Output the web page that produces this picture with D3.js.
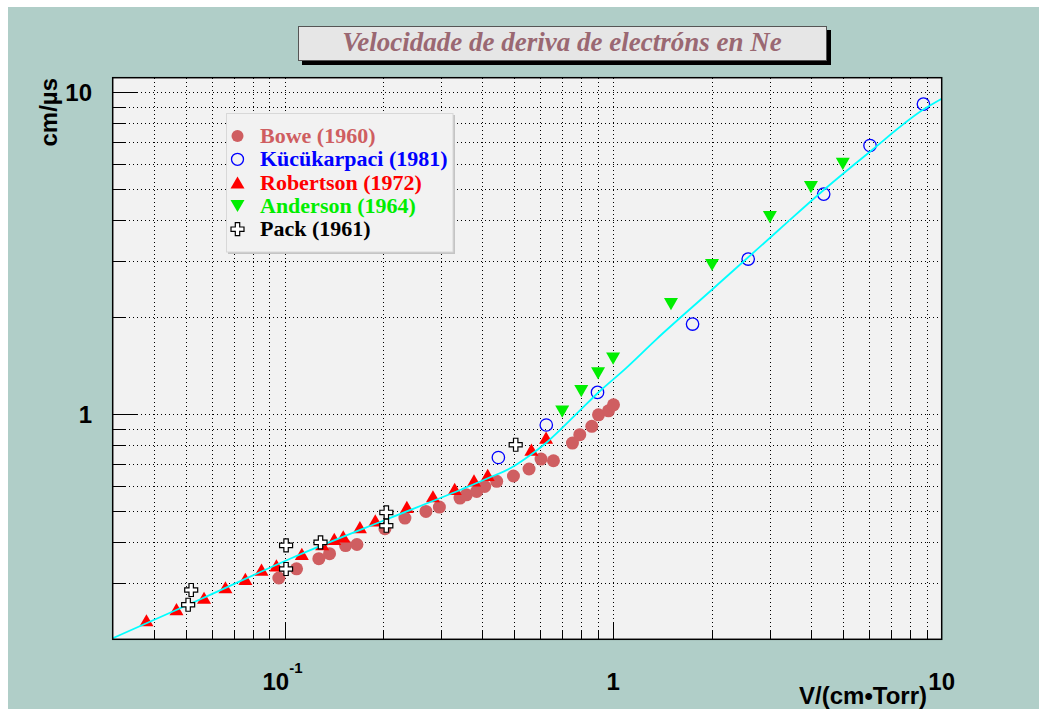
<!DOCTYPE html>
<html>
<head>
<meta charset="utf-8">
<script src="https://cdn.jsdelivr.net/npm/d3@7"></script>
<style>
  body { margin: 0; background: #fff; }
  svg { display: block; }
</style>
</head>
<body>
<svg id="chart" width="1039" height="709"></svg>
<script>
// drift velocity of electrons in neon, E/p in V/(cm·Torr) vs w in cm/µs
const bowe = [
  [0.0961, 0.310], [0.1088, 0.331], [0.1272, 0.356], [0.1371, 0.369], [0.1534, 0.391],
  [0.1661, 0.394], [0.2021, 0.441], [0.2325, 0.476], [0.2694, 0.499], [0.2960, 0.515],
  [0.3420, 0.549], [0.3577, 0.562], [0.3844, 0.576], [0.4066, 0.597], [0.4423, 0.619],
  [0.4974, 0.643], [0.5548, 0.676], [0.6035, 0.726], [0.6584, 0.717], [0.7521, 0.814],
  [0.7917, 0.864], [0.8612, 0.917], [0.9027, 0.996], [0.9683, 1.025], [1.0028, 1.070]
];
const kucukarpaci = [
  [0.4475, 0.734], [0.6261, 0.926], [0.8964, 1.169], [1.745, 1.906],
  [2.577, 3.034], [4.374, 4.829], [6.051, 6.836], [8.797, 9.191]
];
const robertson = [
  [0.0380, 0.229], [0.0469, 0.248], [0.0569, 0.269], [0.0661, 0.290], [0.0760, 0.308],
  [0.0851, 0.329], [0.0945, 0.339], [0.1129, 0.368], [0.1302, 0.395], [0.1417, 0.410],
  [0.1509, 0.417], [0.1696, 0.446], [0.1889, 0.468], [0.2357, 0.515], [0.2830, 0.556],
  [0.3295, 0.586], [0.3773, 0.623], [0.4153, 0.648], [0.5641, 0.776], [0.6252, 0.845]
];
const anderson = [
  [0.7, 1.02], [0.8, 1.18], [0.9, 1.34], [1.0, 1.49], [1.5, 2.2],
  [2.0, 2.91], [3.0, 4.10], [4.0, 5.08], [5.0, 6.0]
];
const pack = [
  [0.0520, 0.2845], [0.0509, 0.2561], [0.1011, 0.3914], [0.1011, 0.3307],
  [0.1287, 0.3999], [0.2041, 0.4955], [0.2041, 0.4505], [0.5053, 0.8040]
];
const fitCurve = [
  [0.03, 0.2015], [0.05546, 0.2664], [0.1119, 0.3675], [0.2030, 0.4703], [0.3437, 0.5828],
  [0.4242, 0.6383], [0.4880, 0.6808], [0.5615, 0.7486], [0.6325, 0.8233], [0.7075, 0.9166],
  [0.7972, 1.033], [0.8983, 1.164], [1.093, 1.389], [1.349, 1.703], [1.998, 2.436],
  [3.197, 3.741], [4.384, 4.981], [6.010, 6.502], [8.841, 8.867], [10, 9.55]
];

const legendEntries = ["Bowe (1960)", "Kücükarpaci (1981)", "Robertson (1972)", "Anderson (1964)", "Pack (1961)"];
const xTickValues = [0.1, 1, 10];
const xTickLabels = [["10", "-1"], ["1", ""], ["10", ""]];
const yTickValues = [1, 10];
const yTickLabels = ["1", "10"];

const titleText = "Velocidade de deriva de electróns en Ne";
const xTitle = "V/(cm•Torr)";
const yTitle = "cm/µs";

const colors = {
  bowe: "#cf5e61",
  kucu: "#0000ff",
  rob: "#ff0000",
  and: "#00ee00",
  pack: "#000000",
  fit: "#00ffff",
  bg: "#b0cec8",
  frame: "#f2f2f2",
  title: "#9a6872"
};

const svg = d3.select("#chart");
const plotL = 112.7, plotR = 941.7, plotT = 77.7, plotB = 639.3;

const x = d3.scaleLog().domain([0.03, 10]).range([plotL, plotR]);
const y = d3.scaleLog().domain([0.2, 11.1]).range([plotB, plotT]);
const px = (v) => Math.round(v) + 0.5;

// canvas
svg.append("rect").attr("x", 8).attr("y", 7).attr("width", 1031).attr("height", 702).attr("fill", colors.bg);

// title box
svg.append("rect").attr("x", 302).attr("y", 30).attr("width", 529).attr("height", 35).attr("fill", "#000");
svg.append("rect").attr("x", 298.5).attr("y", 26.5).attr("width", 528).attr("height", 34)
  .attr("fill", "#e6e6e6").attr("stroke", "#555").attr("stroke-width", 1);
svg.append("text")
  .attr("x", 562).attr("y", 51)
  .attr("text-anchor", "middle")
  .attr("font-family", "'Liberation Serif', 'Times New Roman', serif")
  .attr("font-weight", "bold").attr("font-style", "italic")
  .attr("font-size", 27).attr("fill", colors.title)
  .text(titleText);

// plot frame
svg.append("rect").attr("x", plotL).attr("y", plotT).attr("width", plotR - plotL).attr("height", plotB - plotT)
  .attr("fill", colors.frame);

const grid = svg.append("g")
  .attr("stroke", "#000").attr("stroke-width", 1).attr("stroke-dasharray", "1,3")
  .attr("shape-rendering", "crispEdges");
const xTicks = x.ticks().filter((d) => d > 0.0301 && d < 9.99);
const yTicks = y.ticks().filter((d) => d > 0.2001 && d < 11);

grid.selectAll("line.gx").data(xTicks).join("line")
  .attr("class", "gx")
  .attr("x1", (d) => px(x(d))).attr("x2", (d) => px(x(d))).attr("y1", plotT).attr("y2", plotB);
grid.selectAll("line.gy").data(yTicks).join("line")
  .attr("class", "gy")
  .attr("x1", plotL).attr("x2", plotR).attr("y1", (d) => px(y(d))).attr("y2", (d) => px(y(d)));

const isMajor = (d) => Math.abs(Math.log10(d) - Math.round(Math.log10(d))) < 1e-6;

const ticks = svg.append("g").attr("stroke", "#000").attr("stroke-width", 1.2)
  .attr("shape-rendering", "crispEdges");
ticks.selectAll("line.tx").data(xTicks).join("line")
  .attr("class", "tx")
  .attr("x1", (d) => px(x(d))).attr("x2", (d) => px(x(d)))
  .attr("y1", plotB).attr("y2", (d) => plotB - (isMajor(d) ? 17 : 8));
ticks.selectAll("line.ty").data(yTicks).join("line")
  .attr("class", "ty")
  .attr("y1", (d) => px(y(d))).attr("y2", (d) => px(y(d)))
  .attr("x1", plotL).attr("x2", (d) => plotL + (isMajor(d) ? 24 : 12));

// fit curve
const line = d3.line().x((d) => x(d[0])).y((d) => y(d[1])).curve(d3.curveMonotoneX);

const marks = svg.append("g");

marks.selectAll("circle.bowe").data(bowe).join("circle")
  .attr("class", "bowe")
  .attr("cx", (d) => x(d[0])).attr("cy", (d) => y(d[1])).attr("r", 6.5)
  .attr("fill", colors.bowe);

marks.selectAll("circle.kucu").data(kucukarpaci).join("circle")
  .attr("class", "kucu")
  .attr("cx", (d) => x(d[0])).attr("cy", (d) => y(d[1])).attr("r", 6.2)
  .attr("fill", "none").attr("stroke", colors.kucu).attr("stroke-width", 1.3);

const triUp = "M0,-6.2 L7,6 L-7,6 Z";
const triDown = "M0,6.2 L7,-6 L-7,-6 Z";
const crossPath = "M-2.2,-6.5 H2.2 V-2.2 H6.5 V2.2 H2.2 V6.5 H-2.2 V2.2 H-6.5 V-2.2 H-2.2 Z";

marks.selectAll("path.rob").data(robertson).join("path")
  .attr("class", "rob")
  .attr("d", triUp)
  .attr("transform", (d) => `translate(${x(d[0])},${y(d[1])})`)
  .attr("fill", colors.rob);

marks.selectAll("path.and").data(anderson).join("path")
  .attr("class", "and")
  .attr("d", triDown)
  .attr("transform", (d) => `translate(${x(d[0])},${y(d[1])})`)
  .attr("fill", colors.and);

marks.append("path")
  .datum(fitCurve)
  .attr("d", line)
  .attr("fill", "none").attr("stroke", colors.fit).attr("stroke-width", 1.8);

marks.selectAll("path.pack").data(pack).join("path")
  .attr("class", "pack")
  .attr("d", crossPath)
  .attr("transform", (d) => `translate(${x(d[0])},${y(d[1])})`)
  .attr("fill", "#fff").attr("stroke", colors.pack).attr("stroke-width", 1.2);

// frame border
svg.append("rect").attr("x", plotL).attr("y", plotT).attr("width", plotR - plotL).attr("height", plotB - plotT)
  .attr("fill", "none").attr("stroke", "#000").attr("stroke-width", 1.5);

// axis labels
const sans = "'Liberation Sans', Arial, sans-serif";
const xl = svg.append("g").attr("font-family", sans).attr("font-weight", "bold").attr("font-size", 24)
  .attr("text-anchor", "middle");
xTickValues.forEach((v, i) => {
  const [base, exp] = xTickLabels[i];
  const t = xl.append("text").attr("x", x(v) + (exp ? -2 : 0)).attr("y", 690);
  t.append("tspan").text(base);
  if (exp) {
    t.append("tspan").attr("dy", -17).attr("font-size", 15).text(exp);
  }
});

svg.append("g").attr("font-family", sans).attr("font-weight", "bold").attr("font-size", 24)
  .attr("text-anchor", "end")
  .selectAll("text").data(yTickValues).join("text")
  .attr("x", 92).attr("y", (d) => y(d) + 8.5)
  .text((d, i) => yTickLabels[i]);

svg.append("text")
  .attr("x", 927).attr("y", 704)
  .attr("text-anchor", "end")
  .attr("font-family", sans).attr("font-weight", "bold").attr("font-size", 24)
  .text(xTitle);

svg.append("text")
  .attr("transform", "translate(57,78) rotate(-90)")
  .attr("text-anchor", "end")
  .attr("font-family", sans).attr("font-weight", "bold").attr("font-size", 24)
  .text(yTitle);

// legend
const lg = svg.append("g");
lg.append("rect").attr("x", 228).attr("y", 115).attr("width", 227).attr("height", 139).attr("fill", "#c4c4c4");
lg.append("rect").attr("x", 226.5).attr("y", 113.5).attr("width", 226.5).attr("height", 138.5)
  .attr("fill", "#f2f2f2").attr("stroke", "#d8d8d8").attr("stroke-width", 1);

const legendColors = [colors.bowe, colors.kucu, colors.rob, colors.and, colors.pack];
const rowY = (i) => 136 + i * 23.3;

lg.selectAll("text").data(legendEntries).join("text")
  .attr("x", 260).attr("y", (d, i) => rowY(i) + 7)
  .attr("font-family", "'Liberation Serif', 'Times New Roman', serif")
  .attr("font-weight", "bold").attr("font-size", 22)
  .attr("fill", (d, i) => legendColors[i])
  .text((d) => d);

const mx = 237.5;
lg.append("circle").attr("cx", mx).attr("cy", rowY(0)).attr("r", 6).attr("fill", colors.bowe);
lg.append("circle").attr("cx", mx).attr("cy", rowY(1)).attr("r", 6)
  .attr("fill", "none").attr("stroke", colors.kucu).attr("stroke-width", 1.3);
lg.append("path").attr("d", triUp).attr("transform", `translate(${mx},${rowY(2)})`).attr("fill", colors.rob);
lg.append("path").attr("d", triDown).attr("transform", `translate(${mx},${rowY(3)})`).attr("fill", colors.and);
lg.append("path").attr("d", crossPath).attr("transform", `translate(${mx},${rowY(4)})`)
  .attr("fill", "#fff").attr("stroke", colors.pack).attr("stroke-width", 1.2);
</script>
</body>
</html>
